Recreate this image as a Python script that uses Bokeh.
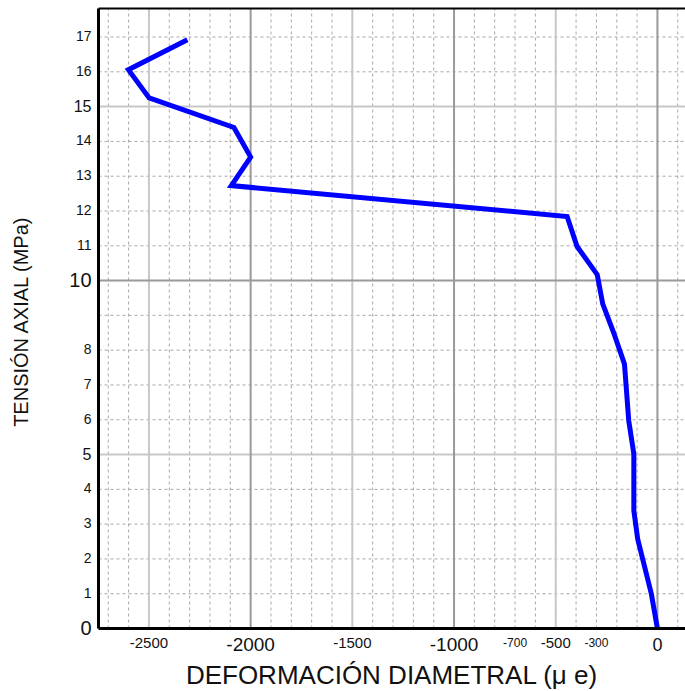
import math
from bokeh.plotting import figure
from bokeh.models import Range1d, ColumnDataSource
from bokeh.core.properties import value, field
from bokeh.embed import file_html
from bokeh.resources import INLINE

# ---- data ----
strain = [0, -30, -97, -116, -116, -141, -162, -215, -269, -296, -395, -444,
          -2095, -2000, -2082, -2499, -2601, -2311]
stress = [0.0, 1.0, 2.57, 3.39, 5.02, 5.97, 7.6, 8.5, 9.33, 10.17, 10.98, 11.84,
          12.73, 13.55, 14.4, 15.25, 16.06, 16.92]

x_tick_values = [-2500, -2000, -1500, -1000, -700, -500, -300, 0]
x_tick_labels = ["-2500", "-2000", "-1500", "-1000", "-700", "-500", "-300", "0"]
x_tick_sizes = ["15px", "19px", "15px", "19px", "12px", "15px", "12px", "18px"]

y_tick_values = [0, 1, 2, 3, 4, 5, 6, 7, 8, 10, 11, 12, 13, 14, 15, 16, 17]
y_tick_labels = [str(v) for v in y_tick_values]
y_tick_sizes = ["20px", "14px", "14px", "14px", "14px", "16px", "14px", "14px", "14px",
                "20px", "14px", "14px", "14px", "14px", "16px", "14px", "14px"]

x_minor = list(range(-2700, 200, 100))
x_major_light = [-2500, -1500, -500]
x_major_dark = [-2000, -1000, 0]
y_minor = list(range(1, 18))
y_major_light = [5, 15]
y_major_dark = [10]

x_title = "DEFORMACIÓN DIAMETRAL (μ e)"
y_title = "TENSIÓN AXIAL  (MPa)"

# data window
X0, X1 = -2748, 138
Y0, Y1 = 0, 17.82

# page geometry (pixels) around the data window
W, H = 685, 691
PAD_L, PAD_R, PAD_T, PAD_B = 98, 0, 8, 63

sx = (W - PAD_L - PAD_R) / (X1 - X0)
sy = (H - PAD_T - PAD_B) / (Y1 - Y0)
x_range = Range1d(X0 - PAD_L / sx, X1 + PAD_R / sx)
y_range = Range1d(Y0 - PAD_B / sy, Y1 + PAD_T / sy)

FONT = value("Liberation Sans")
TXT = "#111111"

p = figure(width=W, height=H, output_backend="svg", toolbar_location=None,
           x_range=x_range, y_range=y_range,
           min_border_left=0, min_border_right=0, min_border_top=0, min_border_bottom=0)
p.axis.visible = False
p.grid.visible = False
p.outline_line_color = None
p.background_fill_color = "white"


def vgrid(xs, color, width, dash="solid"):
    p.segment(x0=xs, y0=[Y0] * len(xs), x1=xs, y1=[Y1] * len(xs),
              line_color=color, line_width=width, line_dash=dash)


def hgrid(ys, color, width, dash="solid"):
    p.segment(x0=[X0] * len(ys), y0=ys, x1=[X1] * len(ys), y1=ys,
              line_color=color, line_width=width, line_dash=dash)


vgrid(x_minor, "#a8a8a8", 1, "3 3")
hgrid(y_minor, "#a8a8a8", 1, "3 3")
vgrid(x_major_light, "#c8c8c8", 2)
hgrid(y_major_light, "#c8c8c8", 2)
vgrid(x_major_dark, "#9a9a9a", 2)
hgrid(y_major_dark, "#9a9a9a", 2)

# data curve
p.line(strain, stress, line_color="#0000ff", line_width=5, line_join="miter")

# axis lines / frame border
p.segment(x0=[X0, X0], y0=[Y0, Y0], x1=[X0, X1], y1=[Y1, Y0], line_color="black", line_width=3)
p.segment(x0=[X0], y0=[Y1], x1=[X1], y1=[Y1], line_color="black", line_width=2)

# tick labels
xsrc = ColumnDataSource(dict(x=x_tick_values, y=[Y0] * len(x_tick_values),
                             t=x_tick_labels, s=x_tick_sizes))
p.text(x="x", y="y", text="t", source=xsrc, text_font_size=field("s"), text_font=FONT,
       text_color=TXT, text_align="center", text_baseline="top", y_offset=9)

ysrc = ColumnDataSource(dict(x=[X0] * len(y_tick_values), y=y_tick_values,
                             t=y_tick_labels, s=y_tick_sizes))
p.text(x="x", y="y", text="t", source=ysrc, text_font_size=field("s"), text_font=FONT,
       text_color=TXT, text_align="right", text_baseline="middle", x_offset=-7, y_offset=-1)

# axis titles
p.text(x=[(X0 + X1) / 2], y=[Y0], text=[x_title], text_font=FONT, text_font_size="26px",
       text_color=TXT, text_align="center", text_baseline="middle", y_offset=46)
p.text(x=[X0], y=[(Y0 + Y1) / 2], text=[y_title], text_font=FONT, text_font_size="20px",
       text_color=TXT, text_align="center", text_baseline="middle", angle=math.pi / 2,
       x_offset=-78)

open("out.html", "w").write(file_html(p, INLINE))
